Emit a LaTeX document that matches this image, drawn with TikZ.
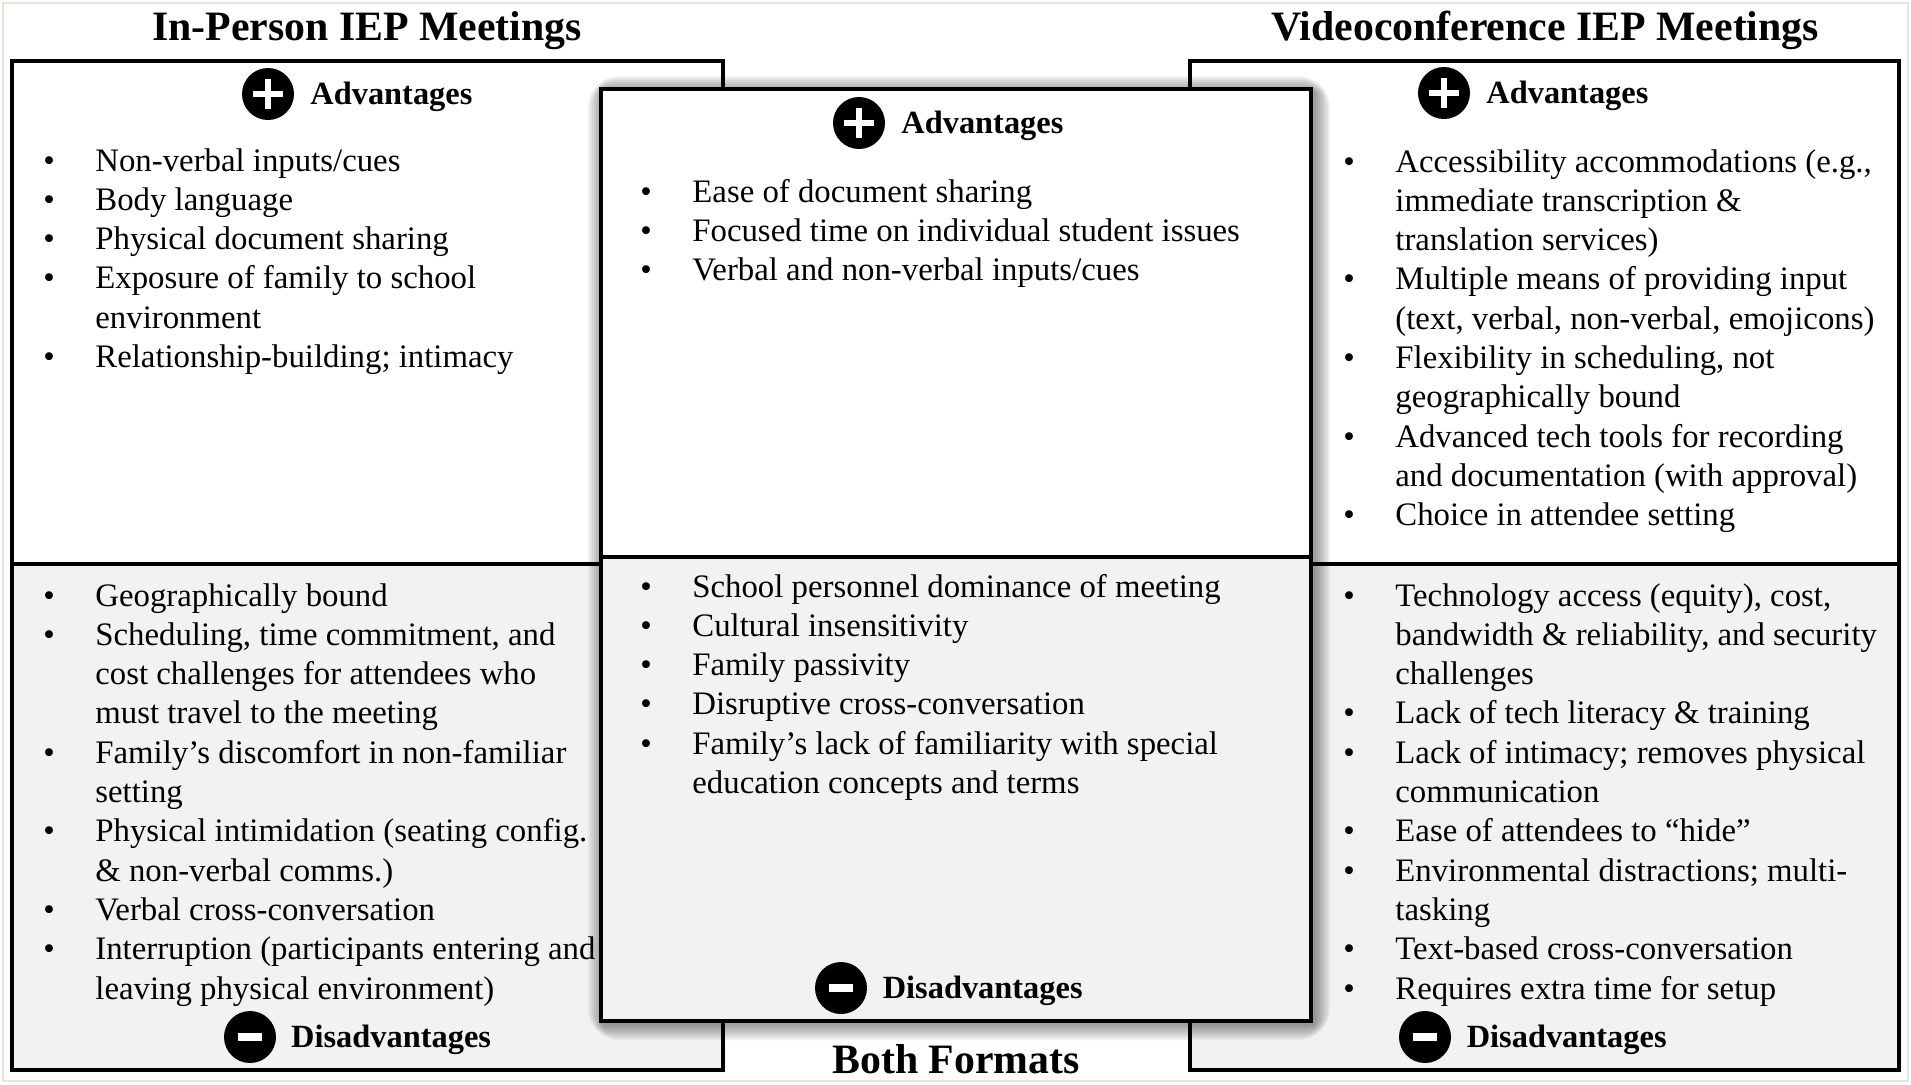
\documentclass[tikz,border=0pt]{standalone}
\usepackage{fontspec}
\setmainfont{Liberation Serif}
\usetikzlibrary{positioning}
\definecolor{disgray}{RGB}{242,242,242}
\definecolor{edgecol}{RGB}{234,227,218}

\tikzset{
  half/.style={draw=black, line width=1.75pt, anchor=north west, inner sep=0pt, outer sep=0pt},
  advhalf/.style={half, fill=white},
  dishalf/.style={half, fill=disgray},
  hdr/.style={anchor=base, inner sep=0pt, font=\fontsize{20.9}{25}\selectfont\bfseries},
  lbl/.style={inner sep=0pt, text height=10.7pt, text depth=0pt, font=\fontsize{16.2}{19.4}\selectfont\bfseries},
  items/.style={anchor=base west, inner sep=0pt, font=\fontsize{16.4}{19.65}\selectfont},
  icon/.style={circle, fill=black, minimum size=26pt, inner sep=0pt},
  plusicon/.style={icon, path picture={
      \draw[white, line width=2.7pt] ([xshift=-7.4pt]path picture bounding box.center) -- ([xshift=7.4pt]path picture bounding box.center);
      \draw[white, line width=2.7pt] ([yshift=-7.4pt]path picture bounding box.center) -- ([yshift=7.4pt]path picture bounding box.center);}},
  minusicon/.style={icon, path picture={
      \draw[white, line width=3.6pt] ([xshift=-6.2pt]path picture bounding box.center) -- ([xshift=6.2pt]path picture bounding box.center);}}
}

\begin{document}
\begin{tikzpicture}[x=0.5pt, y=-0.5pt]
  \useasboundingbox (0,0) rectangle (1911,1084);
  \draw[edgecol, line width=0.6pt] (3,3) rectangle (1908,1081);

  % titles
  \node[hdr] (inTitle) at (367,40) {In-Person IEP Meetings};
  \node[hdr] (vcTitle) at (1545,40) {Videoconference IEP Meetings};
  \node[hdr] (bothTitle) at (956,1073) {Both Formats};

  % in-person panel
  \node[advhalf, minimum width=355.5pt, minimum height=251.5pt] (inTop) at (12,61) {};
  \node[dishalf, minimum width=355.5pt, minimum height=253pt] (inBot) at (12,564) {};

  % videoconference panel
  \node[advhalf, minimum width=354.5pt, minimum height=251.5pt] (vcTop) at (1190,61) {};
  \node[dishalf, minimum width=354.5pt, minimum height=253pt] (vcBot) at (1190,564) {};

  % shadow of the middle panel
  \foreach \k in {2,4,...,16}
    \fill[black, opacity=0.055, rounded corners=\k] (604-\k,92-\k) rectangle (1314+\k,1024+\k);

  % both formats panel
  \node[advhalf, minimum width=355pt, minimum height=234pt] (ctrTop) at (601,89) {};
  \node[dishalf, minimum width=355pt, minimum height=232pt] (ctrBot) at (601,557) {};

  % icons and labels
  \node[plusicon] (inPlus) at (268,94) {};
  \node[lbl, right=7.8pt of inPlus] (inAdvLbl) {Advantages};
  \node[minusicon] (inMinus) at (250,1037) {};
  \node[lbl, right=7.2pt of inMinus] (inDisLbl) {Disadvantages};

  \node[plusicon] (ctrPlus) at (859,123) {};
  \node[lbl, right=7.8pt of ctrPlus] (ctrAdvLbl) {Advantages};
  \node[minusicon] (ctrMinus) at (841,988) {};
  \node[lbl, right=7.5pt of ctrMinus] (ctrDisLbl) {Disadvantages};

  \node[plusicon] (vcPlus) at (1444,93) {};
  \node[lbl, right=7.8pt of vcPlus] (vcAdvLbl) {Advantages};
  \node[minusicon] (vcMinus) at (1425,1037) {};
  \node[lbl, right=7.5pt of vcMinus] (vcDisLbl) {Disadvantages};

  % lists
  \node[items] (inAdvList) at (43,171) {\begin{tabular}[t]{@{}p{26pt}@{}l@{}}
    \textbullet & Non-verbal inputs/cues\\
    \textbullet & Body language\\
    \textbullet & Physical document sharing\\
    \textbullet & Exposure of family to school\\
                & environment\\
    \textbullet & Relationship-building; intimacy
  \end{tabular}};
  \node[items] (inDisList) at (43,606) {\begin{tabular}[t]{@{}p{26pt}@{}l@{}}
    \textbullet & Geographically bound\\
    \textbullet & Scheduling, time commitment, and\\
                & cost challenges for attendees who\\
                & must travel to the meeting\\
    \textbullet & Family’s discomfort in non-familiar\\
                & setting\\
    \textbullet & Physical intimidation (seating config.\\
                & \& non-verbal comms.)\\
    \textbullet & Verbal cross-conversation\\
    \textbullet & Interruption (participants entering and\\
                & leaving physical environment)
  \end{tabular}};

  \node[items] (ctrAdvList) at (640,202) {\begin{tabular}[t]{@{}p{26pt}@{}l@{}}
    \textbullet & Ease of document sharing\\
    \textbullet & Focused time on individual student issues\\
    \textbullet & Verbal and non-verbal inputs/cues
  \end{tabular}};
  \node[items] (ctrDisList) at (640,597) {\begin{tabular}[t]{@{}p{26pt}@{}l@{}}
    \textbullet & School personnel dominance of meeting\\
    \textbullet & Cultural insensitivity\\
    \textbullet & Family passivity\\
    \textbullet & Disruptive cross-conversation\\
    \textbullet & Family’s lack of familiarity with special\\
                & education concepts and terms
  \end{tabular}};

  \node[items] (vcAdvList) at (1343,172) {\begin{tabular}[t]{@{}p{26pt}@{}l@{}}
    \textbullet & Accessibility accommodations (e.g.,\\
                & immediate transcription \&\\
                & translation services)\\
    \textbullet & Multiple means of providing input\\
                & (text, verbal, non-verbal, emojicons)\\
    \textbullet & Flexibility in scheduling, not\\
                & geographically bound\\
    \textbullet & Advanced tech tools for recording\\
                & and documentation (with approval)\\
    \textbullet & Choice in attendee setting
  \end{tabular}};
  \node[items] (vcDisList) at (1343,606) {\begin{tabular}[t]{@{}p{26pt}@{}l@{}}
    \textbullet & Technology access (equity), cost,\\
                & bandwidth \& reliability, and security\\
                & challenges\\
    \textbullet & Lack of tech literacy \& training\\
    \textbullet & Lack of intimacy; removes physical\\
                & communication\\
    \textbullet & Ease of attendees to “hide”\\
    \textbullet & Environmental distractions; multi-\\
                & tasking\\
    \textbullet & Text-based cross-conversation\\
    \textbullet & Requires extra time for setup
  \end{tabular}};
\end{tikzpicture}
\end{document}
